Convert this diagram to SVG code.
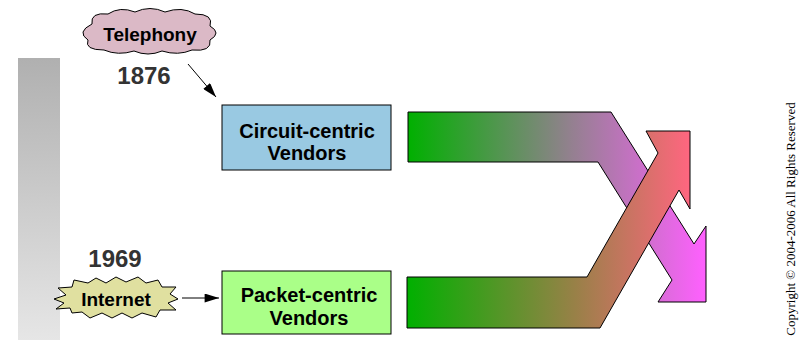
<svg xmlns="http://www.w3.org/2000/svg" width="810" height="340" viewBox="0 0 810 340">
<defs>
<linearGradient id="gbar" x1="0" y1="0" x2="0" y2="1">
<stop offset="0" stop-color="#b0b0b0"/><stop offset="1" stop-color="#e6e6e6"/>
</linearGradient>
<linearGradient id="gtop" gradientUnits="userSpaceOnUse" x1="408" y1="0" x2="706" y2="0">
<stop offset="0" stop-color="#00b000"/><stop offset="0.55" stop-color="#948090"/><stop offset="1" stop-color="#ff60ff"/>
</linearGradient>
<linearGradient id="gbot" gradientUnits="userSpaceOnUse" x1="407" y1="0" x2="690" y2="0">
<stop offset="0" stop-color="#00b000"/><stop offset="0.6" stop-color="#9a8048"/><stop offset="1" stop-color="#ff6680"/>
</linearGradient>
<marker id="ah" viewBox="0 0 16 10" refX="16" refY="5" markerWidth="15" markerHeight="9" orient="auto" markerUnits="userSpaceOnUse">
<path d="M0,0 L16,5 L0,10 Z" fill="#000"/>
</marker>
<style>
.lbl{font-family:"Liberation Sans",Arial,sans-serif;font-weight:bold;font-size:20px;fill:#000;text-anchor:middle}
.year{font-family:"Liberation Sans",Arial,sans-serif;font-weight:bold;font-size:24px;fill:#333;text-anchor:middle}
.shape{stroke:#000;stroke-width:1}
.conn{stroke:#000;stroke-width:1;fill:none;marker-end:url(#ah)}
</style>
</defs>
<rect x="18" y="58" width="42" height="282" fill="url(#gbar)"/>
<g id="flows">
<path class="shape" fill="url(#gtop)" d="M408,112 L611,112 L694,244 L706,226 L706,302 L658,302 L672,280 L598,162 L408,162 Z"/>
<path class="shape" fill="url(#gbot)" d="M407,277 L587,277 L658,153 L646,131 L690,131 L690,209 L679,190 L600,328 L407,328 Z"/>
</g>
<g id="telephony">
<path class="shape" fill="#dbb9c6" d="M92,24 Q90,12 108,14 Q120,6 135,12 Q150,5 165,12 Q182,6 195,14 Q214,14 210,26 Q222,33 210,40 Q212,52 192,50 Q178,56 162,51 Q148,57 134,51 Q118,56 104,50 Q84,50 88,40 Q76,32 92,24 Z"/>
<text class="lbl" x="150" y="41" style="font-size:19px">Telephony</text>
</g>
<text class="year" x="144" y="84">1876</text>
<g id="internet">
<polygon class="shape" fill="#e0e0a0" points="54,299 66,295 58,288 72,287 74,280 88,283 96,278 106,283 116,277 126,282 138,277 146,283 158,280 162,287 176,287 170,294 178,299 168,303 176,310 160,310 156,317 142,313 132,318 122,313 112,318 102,313 90,318 82,312 72,313 70,308 56,309 64,303"/>
<text class="lbl" x="116" y="306" style="font-size:19px">Internet</text>
</g>
<text class="year" x="115" y="267">1969</text>
<g id="circuit">
<rect class="shape" x="222" y="105" width="169" height="65" fill="#99c9e2"/>
<text class="lbl" x="307" y="138">Circuit-centric</text>
<text class="lbl" x="307" y="160">Vendors</text>
</g>
<g id="packet">
<rect class="shape" x="222" y="271" width="169" height="63" fill="#aaff88"/>
<text class="lbl" x="309" y="302">Packet-centric</text>
<text class="lbl" x="309" y="325">Vendors</text>
</g>
<g id="connectors">
<line class="conn" x1="188" y1="64" x2="216" y2="97"/>
<line class="conn" x1="182" y1="298" x2="219" y2="298"/>
</g>
<text x="795" y="219" transform="rotate(-90 795 219)" text-anchor="middle" font-family="'Liberation Serif','Times New Roman',serif" font-size="13" fill="#000">Copyright © 2004-2006 All Rights Reserved</text>
</svg>
